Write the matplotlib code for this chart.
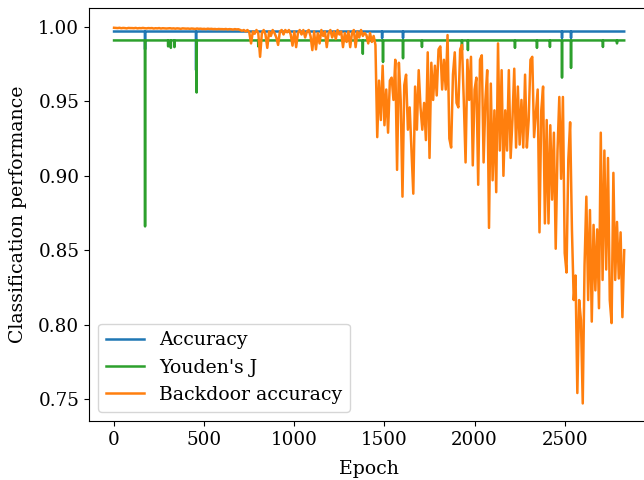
import numpy as np
import matplotlib
matplotlib.use("Agg")
import matplotlib.pyplot as plt

plt.rcParams['font.family'] = 'DejaVu Serif'
plt.rcParams['font.size'] = 13.6
plt.rcParams['xtick.labelsize'] = 13.2
plt.rcParams['ytick.labelsize'] = 13.2

n_epochs = 2831

# accuracy: flat line with a few short dips
acc_base = 0.997
acc_dip_epochs = [172, 455, 1487, 1603, 2485, 2535]
acc_dip_values = [0.985, 0.971, 0.9926, 0.9926, 0.9926, 0.9926]

# Youden's J: flat line with dips
yj_base = 0.991
yj_dip_epochs = [172, 300, 315, 335, 458, 800, 1380, 1492, 1603, 1708, 1930, 1963,
                 2224, 2346, 2418, 2485, 2535, 2712, 2790]
yj_dip_values = [0.866, 0.987, 0.986, 0.9865, 0.956, 0.987, 0.982, 0.9765, 0.979, 0.9866,
                 0.9845, 0.9845, 0.986, 0.986, 0.9866, 0.966, 0.9725, 0.9866, 0.989]

# backdoor accuracy, one value every 10 epochs (0 .. 2830)
bd_step = 10
bd_acc = [
    0.9995, 0.9994, 0.9993, 0.9995, 0.9992, 0.9994, 0.9993, 0.9991, 0.9994, 0.9993,
    0.9993, 0.9992, 0.9994, 0.9991, 0.9993, 0.9992, 0.9994, 0.9992, 0.9991, 0.9993,
    0.9992, 0.9993, 0.9990, 0.9992, 0.9991, 0.9993, 0.9990, 0.9992, 0.9991, 0.9990,
    0.9991, 0.9992, 0.9990, 0.9991, 0.9989, 0.9991, 0.9990, 0.9988, 0.9991, 0.9990,
    0.9989, 0.9990, 0.9988, 0.9990, 0.9989, 0.9987, 0.9990, 0.9988, 0.9989, 0.9987,
    0.9988, 0.9986, 0.9989, 0.9987, 0.9988, 0.9986, 0.9987, 0.9985, 0.9987, 0.9986,
    0.9986, 0.9985, 0.9987, 0.9984, 0.9986, 0.9985, 0.9983, 0.9986, 0.9984, 0.9985,
    0.9980, 0.9975, 0.9980, 0.9970, 0.9980, 0.9965, 0.9890, 0.9970, 0.9955, 0.9980,
    0.9960, 0.9800, 0.9960, 0.9980, 0.9950, 0.9860, 0.9970, 0.9940, 0.9980, 0.9960,
    0.9930, 0.9880, 0.9970, 0.9980, 0.9950, 0.9980, 0.9965, 0.9980, 0.9950, 0.9875,
    0.9970, 0.9865, 0.9960, 0.9980, 0.9950, 0.9980, 0.9930, 0.9970, 0.9980, 0.9940,
    0.9845, 0.9970, 0.9850, 0.9960, 0.9890, 0.9980, 0.9940, 0.9970, 0.9865, 0.9960,
    0.9980, 0.9930, 0.9970, 0.9920, 0.9980, 0.9950, 0.9970, 0.9865, 0.9960, 0.9900,
    0.9970, 0.9865, 0.9960, 0.9980, 0.9865, 0.9970, 0.9930, 0.9980, 0.9940, 0.9960,
    0.9946, 0.9890, 0.9960, 0.9900, 0.9940, 0.9880, 0.9260, 0.9640, 0.9375, 0.9740,
    0.9340, 0.9580, 0.9290, 0.9640, 0.9660, 0.9510, 0.9780, 0.9040, 0.9760, 0.9510,
    0.8860, 0.9610, 0.9680, 0.9310, 0.9460, 0.9170, 0.8880, 0.9600, 0.9310, 0.9710,
    0.9460, 0.9310, 0.9490, 0.9240, 0.9830, 0.9120, 0.9760, 0.9510, 0.9740, 0.9540,
    0.9850, 0.9870, 0.9580, 0.9780, 0.9580, 0.9946, 0.9250, 0.9190, 0.9680, 0.9830,
    0.9490, 0.9460, 0.9850, 0.9880, 0.9510, 0.9090, 0.9780, 0.9510, 0.9800, 0.9070,
    0.9580, 0.9660, 0.8940, 0.9780, 0.9810, 0.9090, 0.9510, 0.9710, 0.8650, 0.9620,
    0.8970, 0.9440, 0.8890, 0.9890, 0.9170, 0.9710, 0.9000, 0.9440, 0.9170, 0.9710,
    0.9120, 0.9375, 0.9720, 0.9190, 0.9600, 0.9210, 0.9510, 0.9190, 0.9680, 0.9190,
    0.9375, 0.9780, 0.9800, 0.9260, 0.9420, 0.9580, 0.8620, 0.9440, 0.9600, 0.8680,
    0.9375, 0.8680, 0.9340, 0.8840, 0.9290, 0.8510, 0.9170, 0.9530, 0.8980, 0.9530,
    0.8480, 0.8350, 0.9110, 0.9360, 0.8640, 0.8165, 0.8330, 0.7540, 0.8165, 0.8030,
    0.7470, 0.8400, 0.8860, 0.8165, 0.8770, 0.8020, 0.8670, 0.8230, 0.8640, 0.8110,
    0.9290, 0.8300, 0.9170, 0.8370, 0.9120, 0.8165, 0.8010, 0.9020, 0.8300, 0.8690,
    0.8310, 0.8620, 0.8050, 0.8500,
]

epochs = np.arange(n_epochs)
accuracy = np.full(n_epochs, acc_base)
accuracy[acc_dip_epochs] = acc_dip_values
youden = np.full(n_epochs, yj_base)
youden[yj_dip_epochs] = yj_dip_values
bd_epochs = np.arange(len(bd_acc)) * bd_step

fig = plt.figure(figsize=(6.44, 4.8), dpi=100)
ax = fig.add_axes([89 / 644, 59 / 480, 559 / 644, 413 / 480])

ax.plot(epochs, accuracy, color='tab:blue', lw=1.8, label='Accuracy')
ax.plot(epochs, youden, color='tab:green', lw=1.8, label="Youden's J")
ax.plot(bd_epochs, bd_acc, color='tab:orange', lw=1.8, label='Backdoor accuracy')

ax.set_xlim(-139, 2962)
ax.set_ylim(0.7352, 1.0128)
ax.set_xticks([0, 500, 1000, 1500, 2000, 2500])
ax.set_yticks([0.75, 0.80, 0.85, 0.90, 0.95, 1.00])
ax.set_xlabel('Epoch', labelpad=8)
ax.set_ylabel('Classification performance', labelpad=8)
ax.legend(loc='lower left')

fig.savefig('out.png', dpi=100)
